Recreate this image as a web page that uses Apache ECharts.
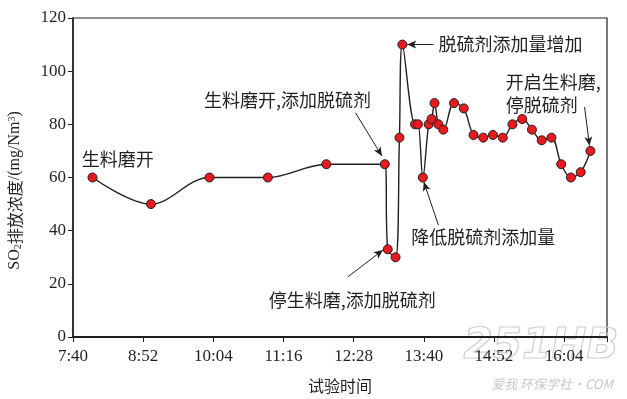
<!DOCTYPE html>
<html>
<head>
<meta charset="utf-8">
<script src="https://cdn.jsdelivr.net/npm/echarts@6/dist/echarts.min.js"></script>
<style>
  html, body { margin: 0; padding: 0; background: #fff; }
  #chart { width: 627px; height: 399px; }
</style>
</head>
<body>
<div id="chart"></div>
<script>
// 测试时刻与SO2排放浓度
const times = ['8:00', '9:00', '10:00', '11:00', '12:00', '13:00', '13:03', '13:11', '13:15', '13:18',
  '13:31', '13:34', '13:39', '13:45', '13:48', '13:51', '13:55', '14:00', '14:11', '14:21',
  '14:31', '14:41', '14:51', '15:01', '15:11', '15:21', '15:31', '15:41', '15:51', '16:01',
  '16:11', '16:21', '16:31'];
const so2 = [60, 50, 60, 60, 65, 65, 33, 30, 75, 110,
  80, 80, 60, 80, 82, 88, 80, 78, 88, 86,
  76, 75, 76, 75, 80, 82, 78, 74, 75, 65,
  60, 62, 70];

const yTicks = [0, 20, 40, 60, 80, 100, 120];
const startTime = '7:40';
const endTime = '16:48';

// 标注文字: [文字, 时刻, 浓度, 对齐]
const notes = [
  ['生料磨开', '8:26', 67, 'center'],
  ['生料磨开,添加脱硫剂', '11:20', 89, 'center'],
  ['脱硫剂添加量增加', '13:55', 110, 'left'],
  ['开启生料磨,\n停脱硫剂', '15:04', 91.6, 'left'],
  ['降低脱硫剂添加量', '13:27', 37.6, 'left'],
  ['停生料磨,添加脱硫剂', '11:01', 13.9, 'left']
];
// 箭头: [起点时刻, 起点浓度, 终点时刻, 终点浓度]
const arrows = [
  ['12:30', 84.3, '12:57', 68.1],
  ['13:50', 110, '13:23', 110],
  ['16:25', 86.5, '16:30', 72],
  ['13:55', 42.1, '13:40', 58.3],
  ['12:22', 22.6, '12:58', 32.7]
];

const toMin = (t) => {
  const [h, m] = t.split(':').map(Number);
  return h * 60 + m;
};
const t0 = toMin(startTime);
const x = (t) => toMin(t) - t0;
const fmt = (v) => {
  const total = t0 + v;
  const h = Math.floor(total / 60);
  const m = total % 60;
  return h + ':' + (m < 10 ? '0' + m : m);
};

const ink = '#231f20';
const cjk = '"Noto Sans CJK SC", sans-serif';
const serif = '"Liberation Serif", "DejaVu Serif", serif';

var myChart = echarts.init(document.getElementById('chart'), null, { renderer: 'canvas' });

const option = {
  animation: false,
  backgroundColor: '#fff',
  grid: {
    left: 73,
    right: 20,
    top: 18,
    bottom: 62,
    outerBoundsMode: 'none',
    containLabel: false,
    show: true,
    borderColor: ink,
    borderWidth: 1.2
  },
  xAxis: {
    type: 'value',
    min: 0,
    max: x(endTime),
    interval: 72,
    name: '试验时间',
    nameLocation: 'middle',
    nameGap: 41,
    nameTextStyle: { fontFamily: cjk, fontSize: 16, color: ink },
    axisLine: { show: true, lineStyle: { color: ink, width: 2 } },
    axisTick: { show: true, length: 5, lineStyle: { color: ink, width: 1 } },
    splitLine: { show: false },
    axisLabel: {
      formatter: (v) => v >= x(endTime) ? '' : fmt(v),
      fontFamily: serif,
      fontSize: 17,
      color: ink,
      margin: 11
    }
  },
  yAxis: {
    type: 'value',
    min: yTicks[0],
    max: yTicks[yTicks.length - 1],
    interval: yTicks[1] - yTicks[0],
    name: '{s|SO}{sub|2}{c|排放浓度}{s|/(mg/Nm}{sup|3}{s|)}',
    nameLocation: 'middle',
    nameGap: 50,
    nameTextStyle: {
      color: ink,
      padding: [0, 0, 0, -26],
      rich: {
        s: { fontFamily: serif, fontSize: 16, color: ink },
        c: { fontFamily: cjk, fontSize: 16, color: ink },
        sub: { fontFamily: serif, fontSize: 10, color: ink, verticalAlign: 'bottom' },
        sup: { fontFamily: serif, fontSize: 10, color: ink, verticalAlign: 'top' }
      }
    },
    axisLine: { show: true, lineStyle: { color: ink, width: 1.5 } },
    axisTick: { show: true, length: 5, lineStyle: { color: ink, width: 1 } },
    splitLine: { show: false },
    axisLabel: { fontFamily: serif, fontSize: 17, color: ink, margin: 7 }
  },
  series: [
    {
      type: 'line',
      data: times.map((t, i) => [x(t), so2[i]]),
      smooth: 0.35,
      symbol: 'circle',
      symbolSize: 9,
      lineStyle: { color: ink, width: 1.4 },
      itemStyle: { color: '#e8191f', borderColor: ink, borderWidth: 1 },
      z: 3,
      markLine: {
        silent: true,
        animation: false,
        symbol: ['none', 'arrow'],
        symbolSize: [6, 9],
        label: { show: false },
        lineStyle: { color: ink, width: 1, type: 'solid' },
        data: arrows.map(a => [
          { coord: [x(a[0]), a[1]] },
          { coord: [x(a[2]), a[3]] }
        ])
      },
      markPoint: {
        silent: true,
        animation: false,
        symbol: 'circle',
        symbolSize: 0,
        data: notes.map(n => ({
          coord: [x(n[1]), n[2]],
          label: {
            show: true,
            position: 'inside',
            formatter: n[0],
            align: n[3],
            verticalAlign: 'middle',
            fontFamily: cjk,
            fontSize: 18,
            lineHeight: 23,
            color: ink
          }
        }))
      }
    }
  ],
  graphic: [
    {
      type: 'text',
      right: 8,
      bottom: 30,
      silent: true,
      style: {
        text: '251HB',
        font: 'italic bold 42px "DejaVu Sans", sans-serif',
        fill: 'rgba(255,255,255,0)',
        stroke: '#cfcfcf',
        lineWidth: 1.2
      }
    },
    {
      type: 'text',
      right: 14,
      bottom: 8,
      silent: true,
      style: {
        text: '爱我 环保学社·COM',
        font: 'italic 13px "Noto Sans CJK SC", sans-serif',
        fill: '#c8c8c8'
      }
    }
  ]
};

option && myChart.setOption(option);
</script>
</body>
</html>
